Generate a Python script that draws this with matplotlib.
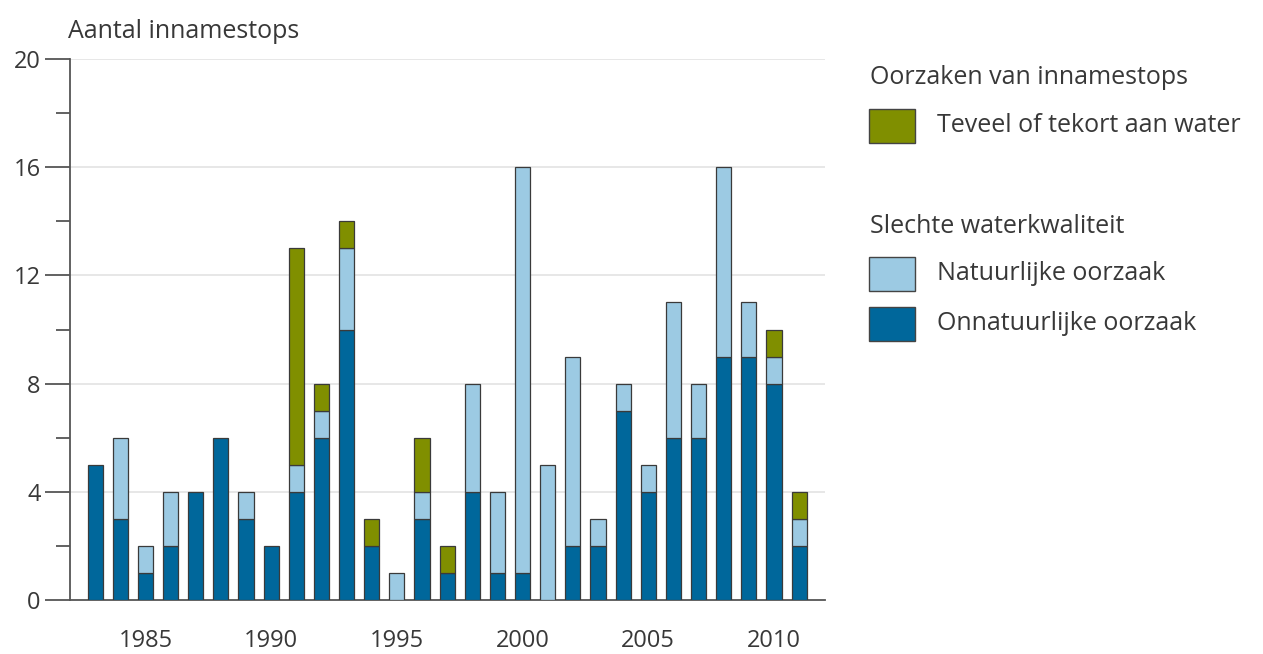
import matplotlib
matplotlib.use("Agg")
import matplotlib.pyplot as plt
from matplotlib.patches import Rectangle
import numpy as np

plt.rcParams['font.family'] = ['Open Sans', 'DejaVu Sans']

years = list(range(1983, 2012))
onnatuurlijk = [5, 3, 1, 2, 4, 6, 3, 2, 4, 6, 10, 2, 0, 3, 1, 4, 1, 1, 0, 2, 2, 7, 4, 6, 6, 9, 9, 8, 2]
natuurlijk   = [0, 3, 1, 2, 0, 0, 1, 0, 1, 1, 3, 0, 1, 1, 0, 4, 3, 15, 5, 7, 1, 1, 1, 5, 2, 7, 2, 1, 1]
teveel       = [0, 0, 0, 0, 0, 0, 0, 0, 8, 1, 1, 1, 0, 2, 1, 0, 0, 0, 0, 0, 0, 0, 0, 0, 0, 0, 0, 1, 1]

xticks = [1985, 1990, 1995, 2000, 2005, 2010]
yticks = [0, 4, 8, 12, 16, 20]

c_onn = '#00679b'
c_nat = '#9ccae3'
c_tev = '#808f00'
edge = '#3a3a3a'
tc = '#383838'
FS = 18

fig = plt.figure(figsize=(12.63, 6.54), dpi=100)
ax = fig.add_axes([70/1263, 1-600/654, (825-70)/1263, (600-59)/654])

x = np.array(years)
onn = np.array(onnatuurlijk)
nat = np.array(natuurlijk)
tev = np.array(teveel)
w = 0.6
kw = dict(width=w, edgecolor=edge, linewidth=0.9, zorder=3)
for vals, bottom, col in [(onn, np.zeros_like(onn), c_onn),
                          (nat, onn, c_nat),
                          (tev, onn + nat, c_tev)]:
    m = vals > 0
    ax.bar(x[m], vals[m], bottom=bottom[m], color=col, **kw)

ax.set_xlim(1982.0, 2012.03)
ax.set_ylim(0, 20)
ax.set_yticks(yticks)
ax.set_yticks([2, 6, 10, 14, 18], minor=True)
ax.set_xticks(xticks)
ax.set_xticklabels([str(t) for t in xticks])
for yv in yticks[1:]:
    ax.axhline(yv, color='#e3e3e3', linewidth=1.2, zorder=1)

for s in ['top', 'right']:
    ax.spines[s].set_visible(False)
for s in ['left', 'bottom']:
    ax.spines[s].set_color('#555555')
    ax.spines[s].set_linewidth(1.3)
ax.tick_params(axis='y', which='major', length=18, width=1.3, color='#555555',
               labelsize=FS - 1, labelcolor=tc, pad=3)
ax.tick_params(axis='y', which='minor', length=10, width=1.3, color='#555555')
ax.tick_params(axis='x', length=0, labelsize=FS - 1, labelcolor=tc, pad=21)

fig.text(68/1263, 1-31/654, 'Aantal innamestops', fontsize=FS, color=tc,
         ha='left', va='center')

# legend
fig.text(870/1263, 1-78/654, 'Oorzaken van innamestops', fontsize=FS, color=tc,
         ha='left', va='center')
fig.text(870/1263, 1-227/654, 'Slechte waterkwaliteit', fontsize=FS, color=tc,
         ha='left', va='center')
entries = [(c_tev, 'Teveel of tekort aan water', 126),
           (c_nat, 'Natuurlijke oorzaak', 274),
           (c_onn, 'Onnatuurlijke oorzaak', 324)]
for col, lab, yc in entries:
    fig.add_artist(Rectangle((869/1263, 1-(yc+17)/654), 46/1263, 34/654,
                             transform=fig.transFigure, facecolor=col,
                             edgecolor='#444444', linewidth=1.0))
    fig.text(937/1263, 1-yc/654, lab, fontsize=FS, color=tc,
             ha='left', va='center')

fig.savefig('out.png', dpi=100)
